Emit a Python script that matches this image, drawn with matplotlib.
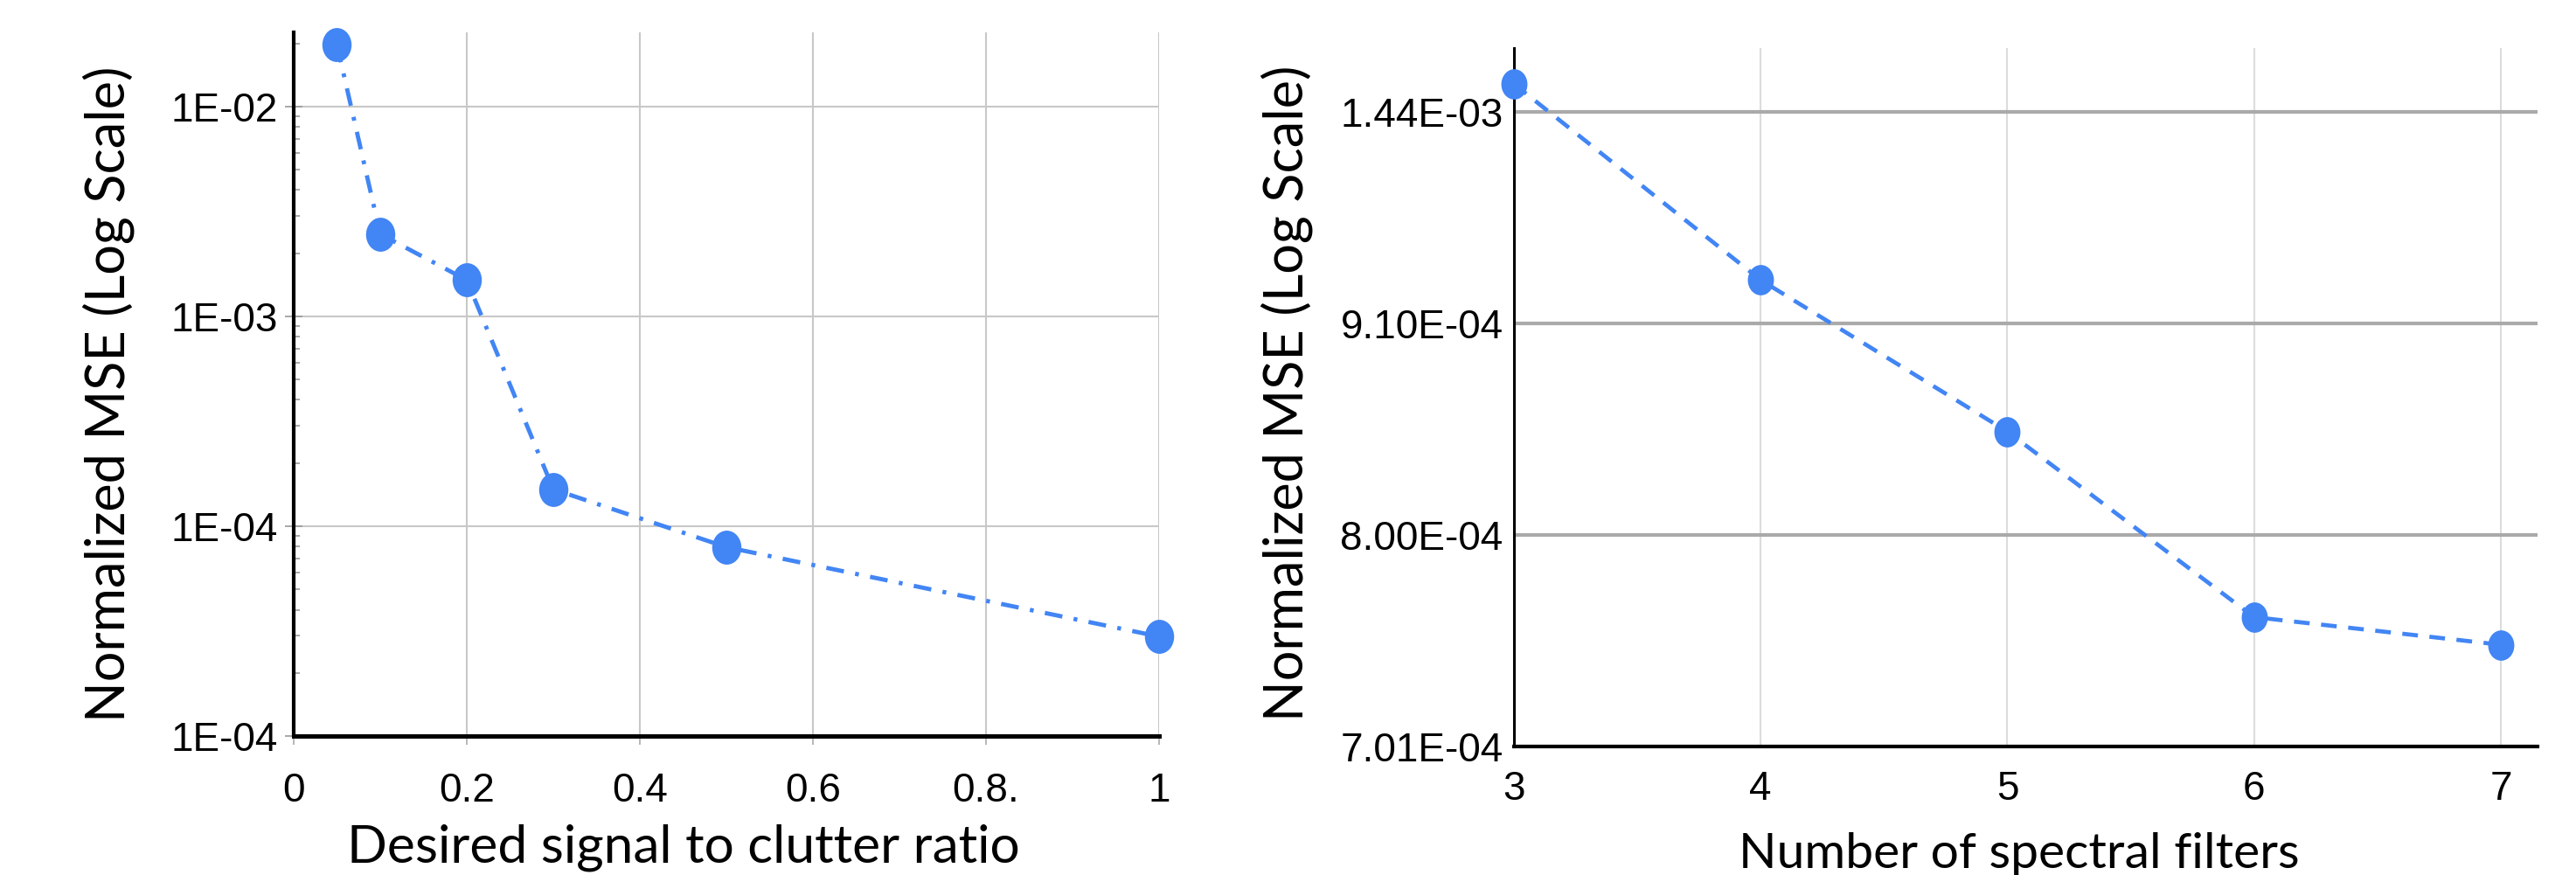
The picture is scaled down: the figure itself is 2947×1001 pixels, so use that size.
import numpy as np
import matplotlib
matplotlib.use("Agg")
import matplotlib.pyplot as plt
from matplotlib.path import Path
from matplotlib.transforms import Affine2D
from matplotlib.ticker import LogLocator, NullFormatter, NullLocator

plt.rcParams['font.family'] = ['Liberation Sans', 'DejaVu Sans']

# ---------------- data ----------------
snr = [0.05, 0.1, 0.2, 0.3, 0.5, 1.0]
mse_snr = [1.97e-2, 2.47e-3, 1.49e-3, 1.50e-4, 7.95e-5, 2.98e-5]
left_xticks = [0, 0.2, 0.4, 0.6, 0.8, 1.0]
left_xticklabels = ["0", "0.2", "0.4", "0.6", "0.8.", "1"]
left_yticks = [1e-5, 1e-4, 1e-3, 1e-2]
left_yticklabels = ["1E-04", "1E-04", "1E-03", "1E-02"]

filters = [3, 4, 5, 6, 7]
mse_filters = [1.53e-3, 1.00e-3, 8.52e-4, 7.60e-4, 7.47e-4]
right_xticks = [3, 4, 5, 6, 7]
right_xticklabels = ["3", "4", "5", "6", "7"]
right_yticks = [7.01e-4, 8.00e-4, 9.10e-4, 1.44e-3]
right_yticklabels = ["7.01E-04", "8.00E-04", "9.10E-04", "1.44E-03"]

BLUE = "#4285F4"
LABEL_FONT = ['Lato', 'DejaVu Sans']

# axis with equally spaced labelled ticks (piecewise log)
LT = np.log10(np.array(right_yticks))
P = np.arange(len(LT), dtype=float)


def fwd(v):
    v = np.asarray(v, dtype=float)
    lv = np.log10(np.where(v > 0, v, 1e-12))
    out = np.interp(lv, LT, P)
    out = np.where(lv < LT[0], (lv - LT[0]) / (LT[1] - LT[0]), out)
    out = np.where(lv > LT[-1], P[-1] + (lv - LT[-1]) / (LT[-1] - LT[-2]), out)
    return out


def inv(p):
    p = np.asarray(p, dtype=float)
    lv = np.interp(p, P, LT)
    lv = np.where(p < 0, LT[0] + p * (LT[1] - LT[0]), lv)
    lv = np.where(p > P[-1], LT[-1] + (p - P[-1]) * (LT[-1] - LT[-2]), lv)
    return 10 ** lv


fig = plt.figure(figsize=(29.47, 10.01), dpi=100)
ax1 = fig.add_axes([0.11401, 0.15884, 0.33593, 0.80420])
ax2 = fig.add_axes([0.58772, 0.14685, 0.39735, 0.79820])

ell = Path.unit_circle().transformed(Affine2D().scale(0.86, 1.0))

# ---------------- left ----------------
ax1.set_yscale('log')
ax1.plot(snr, mse_snr, color=BLUE, lw=3.5, linestyle=(0, (4.2, 2.7, 0.9, 2.7)),
         dash_capstyle='butt', marker=ell, markersize=28, markeredgewidth=0,
         clip_on=False, zorder=4)
ax1.set_xlim(0, 1.0)
ax1.set_ylim(1e-5, 2.26e-2)
ax1.set_xticks(left_xticks)
ax1.set_xticklabels(left_xticklabels)
ax1.set_yticks(left_yticks)
ax1.set_yticklabels(left_yticklabels)
ax1.yaxis.set_minor_locator(LogLocator(base=10, subs=np.arange(2, 10)))
ax1.yaxis.set_minor_formatter(NullFormatter())
ax1.tick_params(axis='y', which='major', direction='inout', length=14, width=1.2,
                color='#9a9a9a', pad=6, labelsize=33)
ax1.tick_params(axis='y', which='minor', direction='in', length=5, width=1.2,
                color='#9a9a9a')
ax1.tick_params(axis='x', which='major', direction='out', length=7, width=1.2,
                color='#aaaaaa', pad=22.5, labelsize=33)
ax1.grid(True, which='major', axis='both', color='#c8c8c8', lw=1.5)
ax1.set_axisbelow(True)
for s in ['top', 'right']:
    ax1.spines[s].set_visible(False)
ax1.spines['left'].set_linewidth(3)
ax1.spines['bottom'].set_linewidth(3.6)

ax1.set_ylabel('Normalized MSE (Log Scale)', fontfamily=LABEL_FONT,
               fontsize=44, ha='center', va='center')
ax1.yaxis.set_label_coords(-0.2137, 0.4857)
ax1.set_xlabel('Desired signal to clutter ratio', fontfamily=LABEL_FONT,
               fontsize=43.5, ha='center', va='baseline')
ax1.xaxis.set_label_coords(0.4505, -0.1789)

# ---------------- right ----------------
ax2.set_yscale('function', functions=(fwd, inv))
ax2.plot(filters, mse_filters, color=BLUE, lw=3.4, linestyle=(0, (3.8, 2.8)),
         dash_capstyle='butt', marker=ell, markersize=25, markeredgewidth=0,
         clip_on=False, zorder=4)
ax2.set_xlim(3, 7.149)
ax2.set_ylim(7.01e-4, 1.654e-3)
ax2.set_xticks(right_xticks)
ax2.set_xticklabels(right_xticklabels)
ax2.set_yticks(right_yticks)
ax2.set_yticklabels(right_yticklabels)
ax2.yaxis.set_minor_locator(NullLocator())
ax2.xaxis.set_minor_locator(NullLocator())
ax2.tick_params(axis='y', which='major', length=0, pad=9, labelsize=33)
ax2.tick_params(axis='x', which='major', length=0, pad=19.5, labelsize=33)
ax2.yaxis.grid(True, color='#aaaaaa', lw=3)
ax2.xaxis.grid(True, color='#dcdcdc', lw=1.5)
ax2.set_axisbelow(True)
for s in ['top', 'right']:
    ax2.spines[s].set_visible(False)
ax2.spines['left'].set_linewidth(2.2)
ax2.spines['bottom'].set_linewidth(3)

ax2.set_ylabel('Normalized MSE (Log Scale)', fontfamily=LABEL_FONT,
               fontsize=44, ha='center', va='center')
ax2.yaxis.set_label_coords(-0.222, 0.5056)
ax2.set_xlabel('Number of spectral filters', fontfamily=LABEL_FONT,
               fontsize=41, ha='center', va='baseline')
ax2.xaxis.set_label_coords(0.4936, -0.174)

fig.savefig('out.png', dpi=100, facecolor='white')
